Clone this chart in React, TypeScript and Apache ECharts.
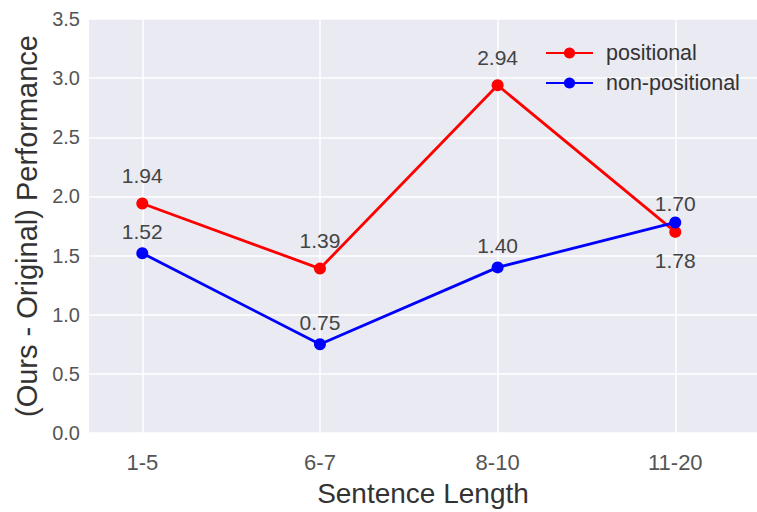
import React, { useEffect, useRef } from "react";
import * as echarts from "echarts";

const categories = ["1-5", "6-7", "8-10", "11-20"];
const positional = [1.94, 1.39, 2.94, 1.7];
const nonPositional = [1.52, 0.75, 1.4, 1.78];
const seriesNames = ["positional", "non-positional"];
const xTitle = "Sentence Length";
const yTitle = "(Ours - Original) Performance";

export default function App() {
  const ref = useRef<HTMLDivElement>(null);
  useEffect(() => {
    document.body.style.margin = "0";
    const chart = echarts.init(ref.current!, null, { renderer: "svg" });
    const font = "Liberation Sans";
    const catIdx = categories.map((_, i) => i);
    const mk = (vals: number[], name: string, color: string, offFor: (i: number) => number) => ({
      type: "line",
      name,
      data: vals.map((v, i) => ({
        value: [i, v],
        label: { offset: [0, offFor(i)] },
      })),
      symbol: "circle",
      symbolSize: 12,
      lineStyle: { color, width: 2.8 },
      itemStyle: { color },
      label: {
        show: true,
        position: "inside",
        formatter: (p: any) => p.value[1].toFixed(2),
        fontFamily: font,
        fontSize: 21,
        color: "#444",
      },
    });
    const option: any = {
      animation: false,
      textStyle: { fontFamily: font },
      grid: {
        left: 89,
        right: 0,
        top: 19,
        bottom: 76,
        show: true,
        backgroundColor: "#EAEAF2",
        borderWidth: 0,
      },
      legend: {
        data: seriesNames,
        orient: "vertical",
        left: 540,
        top: 37,
        itemGap: 8,
        itemWidth: 47,
        itemHeight: 14,
        textStyle: { fontFamily: font, fontSize: 21.5, color: "#333", padding: [0, 0, 0, 8] },
      },
      xAxis: {
        type: "value",
        min: -0.3,
        max: 3.46,
        axisLine: { show: false },
        axisTick: { show: false, customValues: catIdx },
        axisLabel: {
          customValues: catIdx,
          formatter: (v: number) => categories[Math.round(v)] ?? "",
          fontFamily: font,
          fontSize: 22,
          color: "#555",
          margin: 18,
        },
        splitLine: { show: true, lineStyle: { color: "#ffffff", width: 1.5 } },
        name: xTitle,
        nameLocation: "middle",
        nameGap: 46,
        nameTextStyle: { fontFamily: font, fontSize: 28, color: "#333" },
      },
      yAxis: {
        type: "value",
        min: 0,
        max: 3.5,
        interval: 0.5,
        axisLine: { show: false },
        axisTick: { show: false },
        axisLabel: {
          formatter: (v: number) => v.toFixed(1),
          fontFamily: font,
          fontSize: 20,
          color: "#555",
          margin: 9,
        },
        splitLine: { show: true, lineStyle: { color: "#ffffff", width: 1.5 } },
        name: yTitle,
        nameLocation: "middle",
        nameGap: 47,
        nameTextStyle: { fontFamily: font, fontSize: 29, color: "#333" },
      },
      series: [
        mk(positional, seriesNames[0], "#ff0000", () => -28),
        mk(nonPositional, seriesNames[1], "#0000ff", (i) => (i === 3 ? 38 : -22)),
      ],
    };
    chart.setOption(option);
    return () => chart.dispose();
  }, []);
  return <div ref={ref} style={{ width: 757, height: 512 }} />;
}
